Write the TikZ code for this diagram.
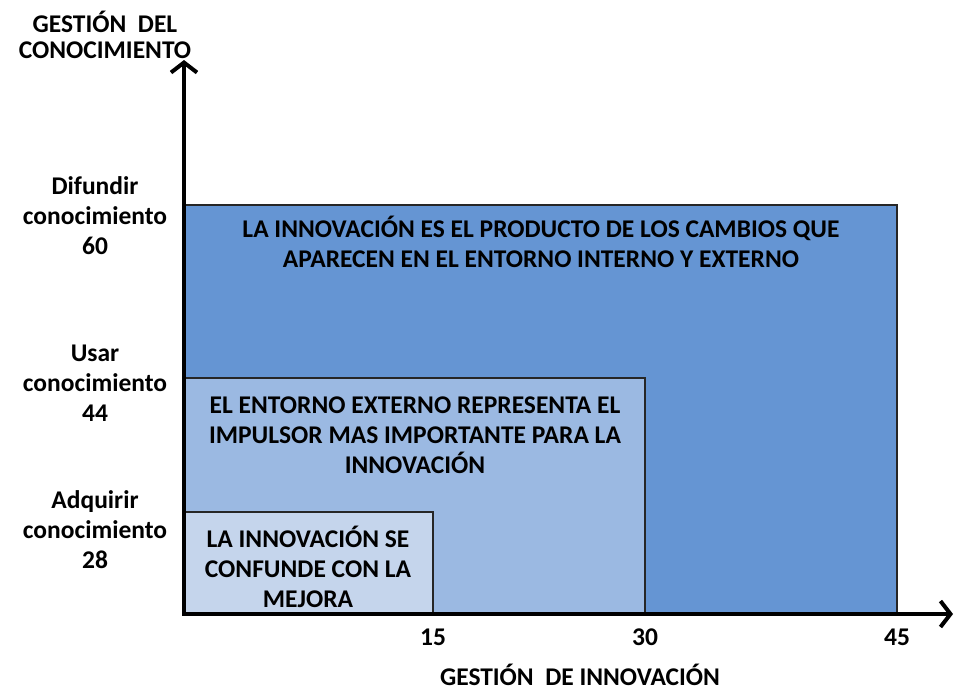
\documentclass[tikz,border=0pt]{standalone}
\usepackage{fontspec}
\setmainfont{Carlito}
\usetikzlibrary{arrows.meta}
\definecolor{bigfill}{RGB}{101,149,211}
\definecolor{midfill}{RGB}{155,185,226}
\definecolor{smallfill}{RGB}{197,213,236}
\tikzset{
  txt/.style={font=\fontsize{25.5}{30}\selectfont\bfseries, align=center, inner sep=0pt},
  area/.style={draw=black!85, line width=1.6pt},
  axis/.style={line width=4pt, -{Straight Barb[length=10pt,width=26pt,line width=4pt]}}
}
\begin{document}
\begin{tikzpicture}[x=1pt,y=-1pt]
  \useasboundingbox (0,0) rectangle (955,691);
  % areas
  \draw[area, fill=bigfill] (184,205) rectangle (897,614);
  \draw[area, fill=midfill] (184,378) rectangle (645,614);
  \draw[area, fill=smallfill] (184,512) rectangle (433,614);
  % axes
  \coordinate (o) at (184,614); \coordinate (ytop) at (184,60); \coordinate (xend) at (953,614);
  \coordinate (o2) at (182,614);
  \draw[axis] (o) -- (ytop); \draw[axis] (o2) -- (xend);
  % labels
  \node[txt] (ylab) at (105,35) {GESTIÓN\ \ DEL\\[-4pt]CONOCIMIENTO};
  \node[txt] (difundir) at (95,216) {Difundir\\conocimiento\\60};
  \node[txt] (usar) at (95,383) {Usar\\conocimiento\\44};
  \node[txt] (adquirir) at (95,530) {Adquirir\\conocimiento\\28};
  \node[txt] (big) at (541,242) {LA INNOVACIÓN ES EL PRODUCTO DE LOS CAMBIOS QUE\\APARECEN EN EL ENTORNO INTERNO Y EXTERNO};
  \node[txt] (mid) at (415,435) {EL ENTORNO EXTERNO REPRESENTA EL\\IMPULSOR MAS IMPORTANTE PARA LA\\INNOVACIÓN};
  \node[txt] (small) at (308,567) {LA INNOVACIÓN SE\\CONFUNDE CON LA\\MEJORA};
  \node[txt] (t15) at (433,637) {15}; \node[txt] (t30) at (645,637) {30}; \node[txt] (t45) at (897,637) {45};
  \node[txt] (xlab) at (580,675) {GESTIÓN\ \ DE INNOVACIÓN};
\end{tikzpicture}
\end{document}
